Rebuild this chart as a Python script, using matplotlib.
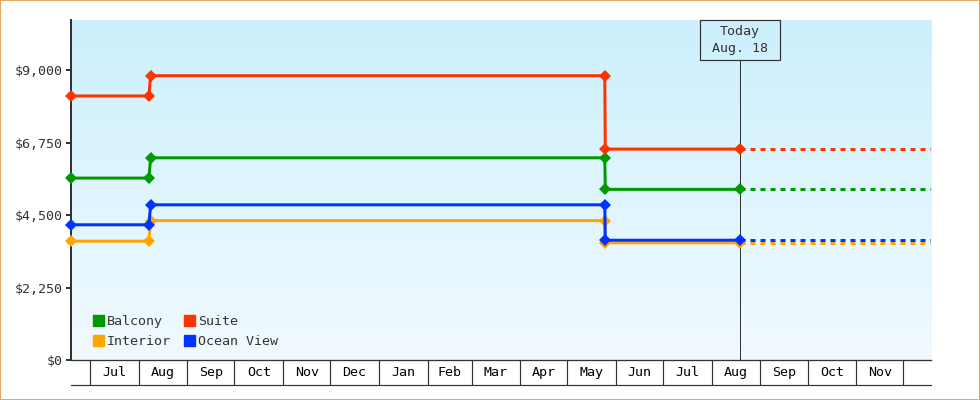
#! /usr/bin/env python3
# -*- coding: utf-8 -*-
import numpy as np
import pandas as pd
import matplotlib
matplotlib.use('Agg')
import matplotlib.pyplot as plt
import matplotlib.dates as mdates
from matplotlib.lines import Line2D
from matplotlib.patches import Rectangle
from matplotlib.ticker import FixedLocator, StrMethodFormatter

# price history (date of each change) and values per cabin type
dates = ['2014-06-18 22:00', '2014-08-07 14:00', '2014-08-08 14:00',
         '2015-05-24 20:00', '2015-05-25 04:00', '2015-08-18 16:00']
balcony = [5650, 5650, 6280, 6280, 5300, 5300]
interior = [3690, 3690, 4330, 4330, 3640, 3640]
suite = [8200, 8200, 8830, 8830, 6550, 6550]
ocean_view = [4200, 4200, 4820, 4820, 3720, 3720]

series_names = ['Balcony', 'Interior', 'Suite', 'Ocean View']
series_colors = ['#009900', '#ffa500', '#ff3300', '#0033ff']

today = '2015-08-18 16:00'
today_label = 'Today\nAug. 18'
x_end = '2015-12-18 14:00'
y_ticks = [0, 2250, 4500, 6750, 9000]
y_max = 10560

DPI = 100
PX = 72.0 / DPI  # one pixel in points
INK = '#333333'

plt.rcParams['font.family'] = ['DejaVu Sans Mono']
plt.rcParams['font.size'] = 9.6


def main():
    x = pd.to_datetime(dates)
    t_today = pd.Timestamp(today)
    t_start = x[0]
    t_end = pd.Timestamp(x_end)

    fig = plt.figure(figsize=(9.8, 4.0), dpi=DPI)
    fig.patch.set_facecolor('white')
    fig.patch.set_edgecolor('#e9a862')
    fig.patch.set_linewidth(2 * PX)
    ax = fig.add_axes([71 / 980, 40 / 400, 860 / 980, 340 / 400])

    # gradient background
    grad = np.linspace(0, 1, 256).reshape(-1, 1)
    top = np.array([204, 240, 253]) / 255.0
    bot = np.array([241, 250, 255]) / 255.0
    img = top + (bot - top) * grad[..., None]
    ax.imshow(img, extent=[0, 1, 0, 1], transform=ax.transAxes,
              aspect='auto', zorder=0, interpolation='bilinear')

    all_series = [balcony, interior, suite, ocean_view]
    for vals, name, col in zip(all_series, series_names, series_colors):
        ax.plot(x, vals, color=col, lw=3 * PX, marker='D', ms=6.3,
                mew=0, zorder=3, label=name, clip_on=False)
        ax.plot([t_today, t_end], [vals[-1], vals[-1]], color=col,
                lw=3 * PX, dashes=(5 / 3.0, 5 / 3.0), dash_capstyle='butt',
                zorder=2)

    ax.set_xlim(t_start, t_end)
    ax.set_ylim(0, y_max)

    # today marker
    n0, n1 = mdates.date2num(t_start), mdates.date2num(t_end)
    fx = (mdates.date2num(t_today) - n0) / (n1 - n0)
    bw, bh = 80 / 860.0, 40 / 340.0
    ax.axvline(t_today, ymin=0, ymax=1 - bh, color=INK, lw=1 * PX, zorder=1)
    ax.add_patch(Rectangle((fx - bw / 2, 1 - bh), bw, bh, transform=ax.transAxes,
                           facecolor='none', edgecolor=INK, lw=1.2 * PX,
                           zorder=4, clip_on=False))
    ax.text(fx, 1 - bh / 2, today_label, transform=ax.transAxes, ha='center',
            va='center', color=INK, linespacing=1.35, zorder=5)

    # spines
    for s in ['top', 'right']:
        ax.spines[s].set_visible(False)
    ax.spines['left'].set_color(INK)
    ax.spines['left'].set_linewidth(2 * PX)
    ax.spines['bottom'].set_color(INK)
    ax.spines['bottom'].set_linewidth(1.3 * PX)

    # y axis
    ax.set_yticks(y_ticks)
    ax.yaxis.set_major_formatter(StrMethodFormatter('${x:,.0f}'))
    ax.tick_params(axis='y', length=5 * PX, width=2 * PX, color=INK,
                   pad=3 * PX, labelcolor=INK)

    # month cells under the axis
    month_starts = pd.date_range(t_start.normalize(), t_end, freq='MS')
    centers = [a + (b - a) / 2 for a, b in zip(month_starts[:-1], month_starts[1:])]
    ax.xaxis.set_major_locator(FixedLocator(mdates.date2num(month_starts)))
    ax.xaxis.set_major_formatter(plt.NullFormatter())
    ax.xaxis.set_minor_locator(FixedLocator(mdates.date2num(centers)))
    ax.set_xticklabels([c.strftime('%b') for c in centers], minor=True)
    ax.tick_params(axis='x', which='major', length=24.5 * PX, width=1.2 * PX,
                   color=INK, direction='out')
    ax.tick_params(axis='x', which='minor', length=0, pad=6 * PX,
                   labelcolor='black')
    fig.add_artist(Line2D([71 / 980, 931 / 980], [1 - 384.5 / 400] * 2,
                          color=INK, lw=1.2 * PX))

    # legend
    handles = [Line2D([], [], marker='s', ms=11 * PX, ls='none', color=c)
               for c in series_colors]
    ax.legend(handles, series_names, ncol=2, loc='upper left',
              bbox_to_anchor=(22 / 860.0, 45 / 340.0), frameon=False,
              borderpad=0, borderaxespad=0, handlelength=0.8,
              handletextpad=0.25, columnspacing=0.95, labelspacing=0.5)
    for t in ax.get_legend().get_texts():
        t.set_color(INK)

    fig.savefig('out.png', dpi=DPI)


if __name__ == '__main__':
    main()
